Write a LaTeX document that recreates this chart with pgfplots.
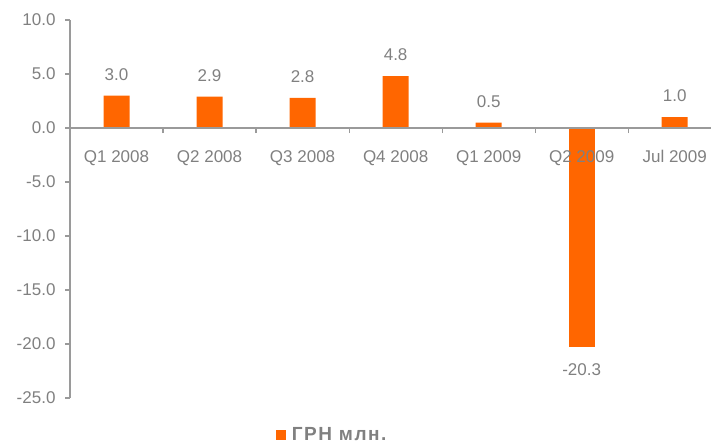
\documentclass[border=0pt]{standalone}
\usepackage{fontspec}
\setmainfont{Liberation Sans}
\newfontfamily\legfont[LetterSpace=8]{Liberation Sans}
\usepackage{pgfplots}
\pgfplotsset{compat=1.18}
\definecolor{barorange}{HTML}{FF6600}
\definecolor{txtgray}{HTML}{808080}
\definecolor{axgray}{HTML}{9A9A9A}
\begin{document}
\begin{tikzpicture}[x=1pt,y=1pt]
\useasboundingbox (0,0) rectangle (711,444);
\begin{axis}[
  at={(70pt,46pt)}, anchor=south west,
  scale only axis, width=641pt, height=378pt,
  xmin=-0.5, xmax=6.39, ymin=-25, ymax=10,
  axis on top,
  axis x line=middle, axis y line=left,
  axis line style={-, draw=axgray, line width=1.2pt},
  ybar, bar width=26pt, bar shift=0pt,
  xtick={0,...,6},
  xticklabels={Q1 2008,Q2 2008,Q3 2008,Q4 2008,Q1 2009,Q2 2009,Jul 2009},
  major x tick style={draw=none},
  minor xtick={0.5,1.5,2.5,3.5,4.5,5.5},
  minor x tick style={draw=axgray, line width=1.2pt},
  minor tick length=5pt,
  xtick align=outside,
  xticklabel style={font=\fontsize{17}{20}\selectfont, text=txtgray, yshift=-14pt},
  ytick={-25,-20,...,10},
  yticklabels={-25.0,-20.0,-15.0,-10.0,-5.0,0.0,5.0,10.0},
  ytick align=outside, major tick length=5pt,
  y tick style={draw=axgray, line width=1.2pt},
  yticklabel style={font=\fontsize{17}{20}\selectfont, text=txtgray, xshift=-6pt},
  point meta=explicit symbolic,
  legend style={at={(0.409,-0.0966)}, anchor=center, draw=none, fill=none,
    font=\legfont\fontsize{19}{22}\selectfont\bfseries, text=txtgray},
  legend image code/.code={\fill[barorange] (0pt,-5pt) rectangle (10pt,5pt);},
  clip=false,
]
\addplot[fill=barorange, draw=none,
  nodes near coords,
  every node near coord/.append style={font=\fontsize{17}{20}\selectfont, text=txtgray, anchor=south, inner sep=0pt, yshift=15pt}]
  coordinates {
  (0,3.0) [3.0]
  (1,2.9) [2.9]
  (2,2.8) [2.8]
  (3,4.8) [4.8]
  (4,0.5) [0.5]
  (6,1.0) [1.0]
};
\addlegendentry{\hspace{4pt}ГРН млн.}
\addplot[fill=barorange, draw=none, forget plot,
  nodes near coords,
  every node near coord/.append style={font=\fontsize{17}{20}\selectfont, text=txtgray, anchor=north, inner sep=0pt, yshift=-16pt}]
  coordinates {
  (5,-20.3) [-20.3]
};
\end{axis}
\end{tikzpicture}
\end{document}
